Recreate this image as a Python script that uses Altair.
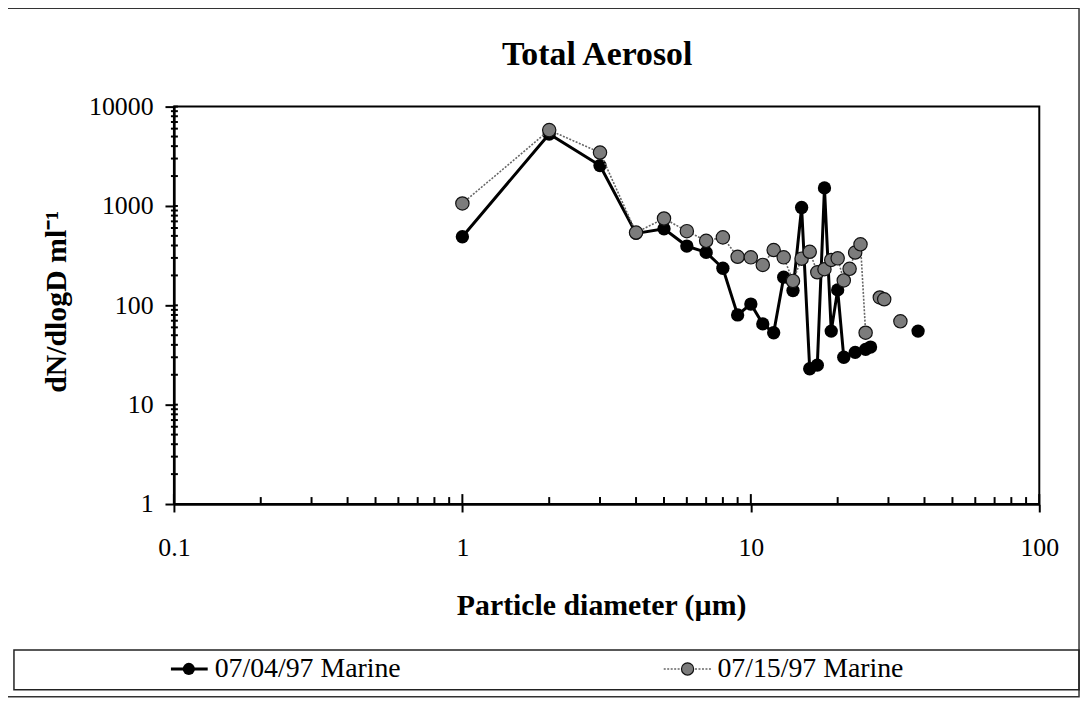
import altair as alt
import pandas as pd

FONT = "Liberation Serif"

title_text = "Total Aerosol"
x_title = "Particle diameter (µm)"
y_title = "dN/dlogD ml⁻¹"
series_names = ["07/04/97 Marine", "07/15/97 Marine"]

# Series 1: 07/04/97 Marine (black filled circles, solid line)
s1_x = [1, 2, 3, 4, 5, 6, 7, 8, 9, 10, 11, 12, 13, 14, 15, 16, 17, 18, 19, 20, 21, 23, 25, 26]
s1_y = [490, 5300, 2550, 530, 590, 395, 341, 236, 80, 103, 65, 53, 192, 141, 965, 23, 25, 1520, 55, 143, 30, 33.6, 36, 38]
s1_iso_x = [38]
s1_iso_y = [55]

# Series 2: 07/15/97 Marine (grey patterned circles, dotted line)
s2_x = [1, 2, 3, 4, 5, 6, 7, 8, 9, 10, 11, 12, 13, 14, 15, 16, 17, 18, 19, 20, 21, 22, 23, 24, 25]
s2_y = [1060, 5800, 3450, 540, 748, 558, 446, 483, 308, 304, 255, 360, 304, 176, 295, 346, 215, 231, 286, 297, 178, 233, 340, 411, 53]
s2_iso_x = [28, 29, 33]
s2_iso_y = [120, 115, 69]

x_ticks = [0.1, 1, 10, 100]
y_ticks = [1, 10, 100, 1000, 10000]
x_minor = [m * 10 ** e for e in (-1, 0, 1) for m in range(2, 10)]
y_minor = [m * 10 ** e for e in (0, 1, 2, 3) for m in range(2, 10)]

W, H = 871, 400


def build(xs, ys, ix, iy):
    rows = [{"x": a, "y": b, "seg": 0} for a, b in zip(xs, ys)]
    rows += [{"x": a, "y": b, "seg": i + 1} for i, (a, b) in enumerate(zip(ix, iy))]
    return pd.DataFrame(rows)


df1 = build(s1_x, s1_y, s1_iso_x, s1_iso_y)
df2 = build(s2_x, s2_y, s2_iso_x, s2_iso_y)

xs = alt.Scale(type="log", domain=[0.1, 100], nice=False)
ys = alt.Scale(type="log", domain=[1, 10000], nice=False)

X = alt.X("x:Q", scale=xs, axis=alt.Axis(
    values=x_ticks, format="~g", title=x_title, tickSize=8, labelPadding=23, labelFlush=False,
    titleX=430, titleY=102, titleBaseline="middle"))
Y = alt.Y("y:Q", scale=ys, axis=alt.Axis(
    values=y_ticks, format="d", title=y_title, tickSize=9, labelPadding=12, labelFlush=False,
    titleX=-118, titleY=196, titleBaseline="middle", titleAngle=-90))

PAT_FILL = "#7c7c7c"

line1 = alt.Chart(df1).mark_line(color="black", strokeWidth=3).encode(x=X, y=Y, detail="seg:N")
pts1 = alt.Chart(df1).mark_point(filled=True, color="black", size=180, opacity=1).encode(x=X, y=Y)
line2 = alt.Chart(df2).mark_line(color="#666666", strokeWidth=1.6, strokeDash=[2, 1.5]).encode(x=X, y=Y, detail="seg:N")
pts2 = alt.Chart(df2).mark_point(filled=True, fill=PAT_FILL, stroke="#111111", strokeWidth=1.2,
                                 size=180, opacity=1).encode(x=X, y=Y)

xmin_df = pd.DataFrame({"x": x_minor})
xmaj_df = pd.DataFrame({"x": x_ticks})
ymin_df = pd.DataFrame({"y": y_minor})
ymaj_df = pd.DataFrame({"y": y_ticks})

xminor = alt.Chart(xmin_df).mark_rule(color="black", strokeWidth=2).encode(
    x=alt.X("x:Q", scale=xs), y=alt.value(H), y2=alt.value(H - 7))
xmajor = alt.Chart(xmaj_df).mark_rule(color="black", strokeWidth=2).encode(
    x=alt.X("x:Q", scale=xs), y=alt.value(H), y2=alt.value(H - 10))
yminor = alt.Chart(ymin_df).mark_rule(color="black", strokeWidth=2).encode(
    y=alt.Y("y:Q", scale=ys), x=alt.value(-3), x2=alt.value(4))
ymajor = alt.Chart(ymaj_df).mark_rule(color="black", strokeWidth=2).encode(
    y=alt.Y("y:Q", scale=ys), x=alt.value(0), x2=alt.value(4))

one = pd.DataFrame({"k": [0]})
frame = alt.Chart(one).mark_rect(fillOpacity=0, stroke="#333333", strokeWidth=1.5).encode(
    x=alt.value(-168), x2=alt.value(911), y=alt.value(-99), y2=alt.value(594))
legbox = alt.Chart(one).mark_rect(fillOpacity=0, stroke="#222222", strokeWidth=1.5).encode(
    x=alt.value(-161), x2=alt.value(911), y=alt.value(547), y2=alt.value(587))

title_mark = alt.Chart(one).mark_text(align="center", baseline="alphabetic", font=FONT, fontSize=34,
                                      fontWeight="bold", color="black").encode(
    x=alt.value(426), y=alt.value(-42), text=alt.value(title_text))

LY = 566
leg1_line = alt.Chart(one).mark_rule(color="black", strokeWidth=3).encode(
    x=alt.value(-3), x2=alt.value(34), y=alt.value(LY))
leg1_pt = alt.Chart(one).mark_point(filled=True, color="black", size=150, opacity=1).encode(
    x=alt.value(15), y=alt.value(LY))
leg1_txt = alt.Chart(one).mark_text(align="left", baseline="middle", font=FONT, fontSize=28,
                                    color="black").encode(
    x=alt.value(41), y=alt.value(LY), text=alt.value(series_names[0]))
leg2_line = alt.Chart(one).mark_rule(color="#666666", strokeWidth=1.6, strokeDash=[2, 1.5]).encode(
    x=alt.value(493), x2=alt.value(542), y=alt.value(LY))
leg2_pt = alt.Chart(one).mark_point(filled=True, fill=PAT_FILL, stroke="#111111", strokeWidth=1.2,
                                    size=150, opacity=1).encode(
    x=alt.value(517), y=alt.value(LY))
leg2_txt = alt.Chart(one).mark_text(align="left", baseline="middle", font=FONT, fontSize=28,
                                    color="black").encode(
    x=alt.value(547), y=alt.value(LY), text=alt.value(series_names[1]))

chart = alt.layer(
    frame, legbox, title_mark,
    xminor, xmajor, yminor, ymajor,
    line1, pts1, line2, pts2,
    leg1_line, leg1_pt, leg1_txt, leg2_line, leg2_pt, leg2_txt,
).properties(
    width=W, height=H,
    padding={"left": 167, "top": 97, "right": 44, "bottom": 196},
    autosize=alt.AutoSizeParams(type="none"),
    background="white",
).configure_view(
    stroke="black", strokeWidth=2
).configure_axis(
    grid=False, domainColor="black", domainWidth=2.5, tickColor="black", tickWidth=2,
    labelFont=FONT, labelFontSize=26, labelColor="black",
    titleFont=FONT, titleFontSize=30, titleFontWeight="bold", titleColor="black",
)

chart.save("out.html", embed_options={"renderer": "svg", "actions": False})
